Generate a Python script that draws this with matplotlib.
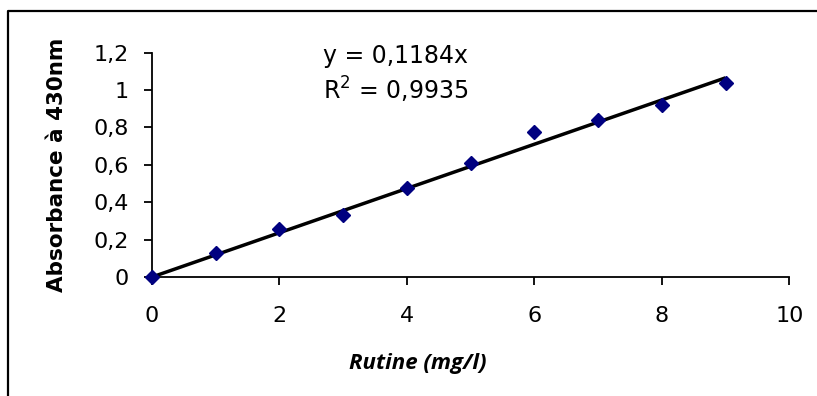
import matplotlib
matplotlib.use("Agg")
import matplotlib.pyplot as plt
from matplotlib.lines import Line2D
from matplotlib.ticker import FuncFormatter

# Calibration data: rutin concentration vs absorbance at 430 nm
concentration = [0, 1, 2, 3, 4, 5, 6, 7, 8, 9]
absorbance = [0.0, 0.127, 0.257, 0.33, 0.475, 0.61, 0.775, 0.84, 0.92, 1.036]
slope = 0.1184
r_squared = 0.9935

x_ticks = [0, 2, 4, 6, 8, 10]
y_ticks = [0, 0.2, 0.4, 0.6, 0.8, 1.0, 1.2]

W, H = 817, 396
fig = plt.figure(figsize=(W / 100, H / 100), dpi=100)
ax = fig.add_axes([152 / W, 1 - 277 / H, (789.3 - 152) / W, (277 - 52.7) / H])

# Linear trendline through the origin
fit_x = [concentration[0], concentration[-1]]
fit_y = [slope * v for v in fit_x]
ax.plot(fit_x, fit_y, color="black", lw=2.5, solid_capstyle="butt", zorder=2)
ax.plot(concentration, absorbance, linestyle="none", marker="D",
        markersize=7.5, color="#000080", zorder=3, clip_on=False)

ax.set_xlim(0, 10)
ax.set_ylim(0, 1.2)
ax.set_xticks(x_ticks)
ax.set_yticks(y_ticks)

def comma(v, _):
    s = f"{v:g}"
    return s.replace(".", ",")

ax.xaxis.set_major_formatter(FuncFormatter(comma))
ax.yaxis.set_major_formatter(FuncFormatter(comma))

for side in ("top", "right"):
    ax.spines[side].set_visible(False)
for side in ("left", "bottom"):
    ax.spines[side].set_linewidth(1.3)
    ax.spines[side].set_color("black")

ax.tick_params(axis="both", direction="out", length=6, width=1.3,
               labelsize=16, colors="black")
ax.tick_params(axis="x", pad=15)
ax.tick_params(axis="y", pad=11)
for lab in ax.get_xticklabels() + ax.get_yticklabels():
    lab.set_family("DejaVu Sans")

ax.set_ylabel("Absorbance à 430nm", family="DejaVu Sans",
              fontweight="bold", fontsize=15.5, labelpad=19)

ax.text(2.68, 1.18, f"y = {slope:g}x".replace(".", ","), family="DejaVu Sans",
        fontsize=17, va="center", ha="left")
ax.text(2.68, 1.0, "R$^2$ = " + f"{r_squared:g}".replace(".", ","),
        family="DejaVu Sans", fontsize=17, va="center", ha="left")

fig.text(418 / W, 1 - 363 / H, "Rutine (mg/l)", family="Open Sans",
         fontweight="bold", fontstyle="italic", fontsize=16,
         ha="center", va="center")

# Chart area border (top and left edges visible)
fig.add_artist(Line2D([8 / W, 8 / W, 1.0], [0.0, 1 - 11 / H, 1 - 11 / H],
                      transform=fig.transFigure, color="black", lw=1.6))

fig.savefig("out.png", dpi=100)
